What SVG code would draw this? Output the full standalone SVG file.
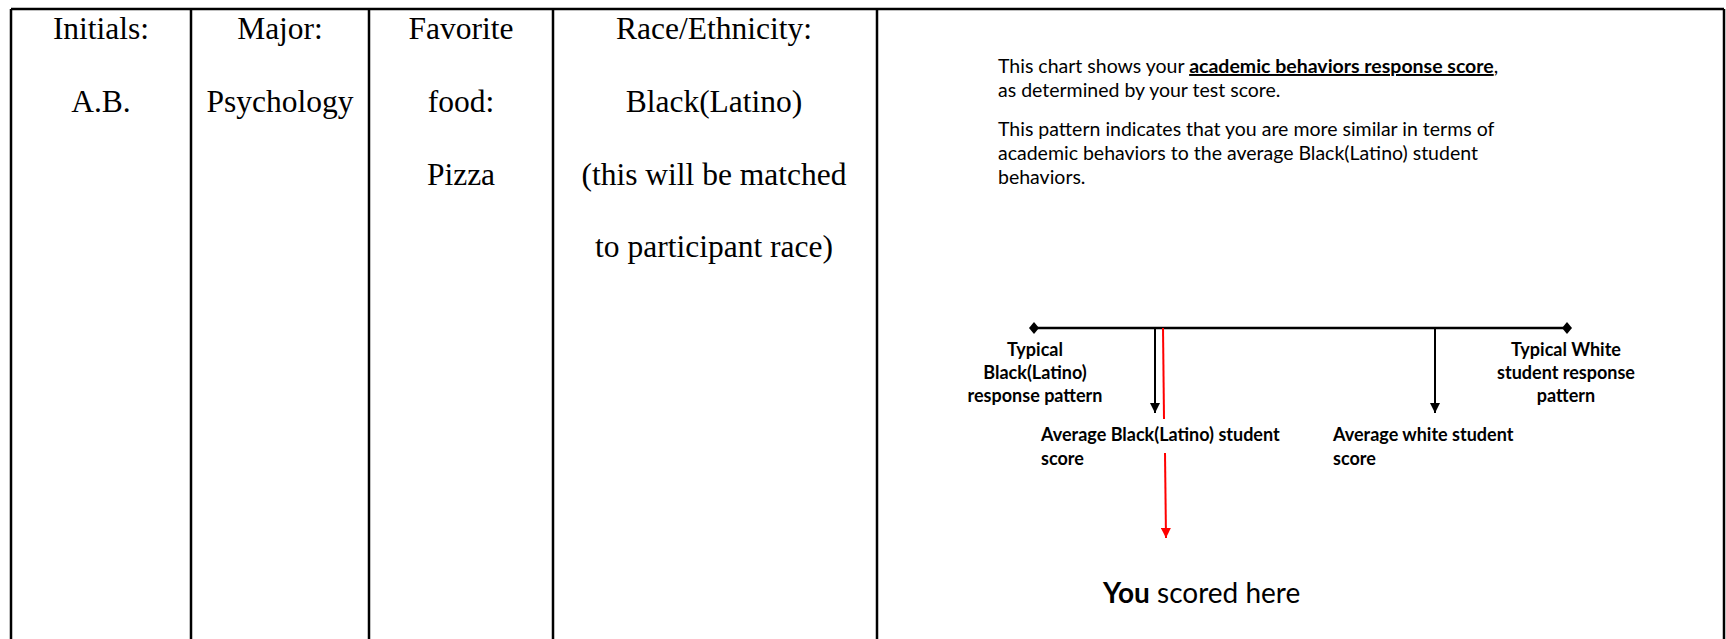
<svg xmlns="http://www.w3.org/2000/svg" width="1726" height="639" viewBox="0 0 1726 639">
<style>
.grid{stroke:#000;stroke-width:2.5;fill:none}
.ser{font-family:"Liberation Serif","Times New Roman",serif;font-size:31.5px;fill:#000;text-anchor:middle}
.body{font-family:Lato,"Noto Sans",sans-serif;font-size:19.5px;fill:#000}
.lab{font-family:Lato,"Noto Sans",sans-serif;font-size:18px;font-weight:bold;fill:#000}
.axis{stroke:#000;stroke-width:2.5}
.blk{stroke:#000;stroke-width:2}
.red{stroke:#ff0000;stroke-width:2}
</style>
<defs>
<marker id="ab" viewBox="0 0 10 10" refX="10" refY="5" markerWidth="10" markerHeight="10" orient="auto" markerUnits="userSpaceOnUse">
<path d="M0,0 L10,5 L0,10 Z" fill="#000"/>
</marker>
<marker id="ar" viewBox="0 0 10 10" refX="10" refY="5" markerWidth="10" markerHeight="10" orient="auto" markerUnits="userSpaceOnUse">
<path d="M0,0 L10,5 L0,10 Z" fill="#ff0000"/>
</marker>
</defs>
<rect width="1726" height="639" fill="#fff"/>
<g id="table">
<path class="grid" d="M11,9 H1724 M11,9 V639 M191,9 V639 M369,9 V639 M553,9 V639 M877,9 V639 M1724,9 V639"/>
</g>
<g id="col-initials">
<text class="ser" x="101" y="39">Initials:</text>
<text class="ser" x="101" y="112">A.B.</text>
</g>
<g id="col-major">
<text class="ser" x="280" y="39">Major:</text>
<text class="ser" x="280" y="112">Psychology</text>
</g>
<g id="col-food">
<text class="ser" x="461" y="39">Favorite</text>
<text class="ser" x="461" y="112">food:</text>
<text class="ser" x="461" y="185">Pizza</text>
</g>
<g id="col-race">
<text class="ser" x="714" y="39">Race/Ethnicity:</text>
<text class="ser" x="714" y="112">Black(Latino)</text>
<text class="ser" x="714" y="185">(this will be matched</text>
<text class="ser" x="714" y="257">to participant race)</text>
</g>
<g id="description">
<text class="body" x="998" y="73">This chart shows your <tspan font-weight="bold" text-decoration="underline">academic behaviors response score</tspan>,</text>
<text class="body" x="998" y="97">as determined by your test score.</text>
<text class="body" x="998" y="136">This pattern indicates that you are more similar in terms of</text>
<text class="body" x="998" y="160">academic behaviors to the average Black(Latino) student</text>
<text class="body" x="998" y="184">behaviors.</text>
</g>
<g id="connectors">
<line class="axis" x1="1034" y1="328" x2="1567" y2="328"/>
<path d="M1034,322 L1039,328 L1034,334 L1029,328 Z" fill="#000"/>
<path d="M1567,322 L1572,328 L1567,334 L1562,328 Z" fill="#000"/>
<line class="blk" x1="1155" y1="328" x2="1155" y2="413" marker-end="url(#ab)"/>
<line class="blk" x1="1435" y1="328" x2="1435" y2="413" marker-end="url(#ab)"/>
<line class="red" x1="1163" y1="328" x2="1164" y2="419"/>
<line class="red" x1="1165" y1="453" x2="1166" y2="538" marker-end="url(#ar)"/>
</g>
<g id="label-black">
<text class="lab" x="1035" y="356" text-anchor="middle">Typical</text>
<text class="lab" x="1035" y="379" text-anchor="middle">Black(Latino)</text>
<text class="lab" x="1035" y="402" text-anchor="middle">response pattern</text>
</g>
<g id="label-white">
<text class="lab" x="1566" y="356" text-anchor="middle">Typical White</text>
<text class="lab" x="1566" y="379" text-anchor="middle">student response</text>
<text class="lab" x="1566" y="402" text-anchor="middle">pattern</text>
</g>
<g id="label-avg-black">
<text class="lab" x="1041" y="441">Average Black(Latino) student</text>
<text class="lab" x="1041" y="465">score</text>
</g>
<g id="label-avg-white">
<text class="lab" x="1333" y="441">Average white student</text>
<text class="lab" x="1333" y="465">score</text>
</g>
<g id="you">
<text x="1103" y="603" font-family="Lato,'Noto Sans',sans-serif" font-size="28" fill="#000"><tspan font-weight="bold">You</tspan> scored here</text>
</g>
</svg>
